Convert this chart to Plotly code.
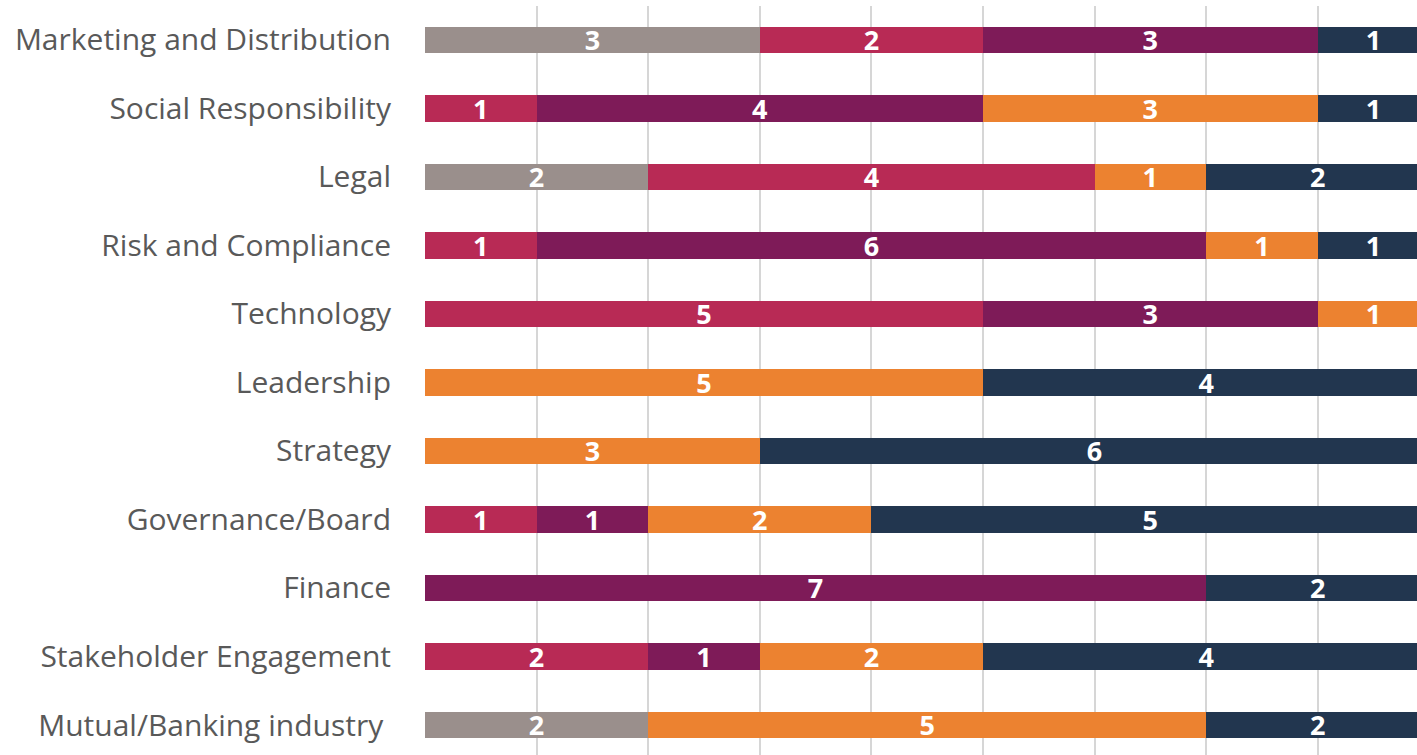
import plotly.graph_objects as go

categories = ["Mutual/Banking industry ", "Stakeholder Engagement", "Finance", "Governance/Board",
              "Strategy", "Leadership", "Technology", "Risk and Compliance", "Legal",
              "Social Responsibility", "Marketing and Distribution"]

series_names = ["Series 1", "Series 2", "Series 3", "Series 4", "Series 5"]
s1 = [2, 0, 0, 0, 0, 0, 0, 0, 2, 0, 3]
s2 = [0, 2, 0, 1, 0, 0, 5, 1, 4, 1, 2]
s3 = [0, 1, 7, 1, 0, 0, 3, 6, 0, 4, 3]
s4 = [5, 2, 0, 2, 3, 5, 1, 1, 1, 3, 0]
s5 = [2, 4, 2, 5, 6, 4, 0, 1, 2, 1, 1]
colors = ["#9a8f8c", "#b82a55", "#7e1b58", "#ec8230", "#22364f"]

fig = go.Figure()
for name, vals, col in zip(series_names, [s1, s2, s3, s4, s5], colors):
    fig.add_trace(go.Bar(
        y=categories, x=vals, name=name, orientation="h",
        marker=dict(color=col, line=dict(width=0)),
        text=[str(v) if v else "" for v in vals],
        textposition="inside", insidetextanchor="middle",
        textfont=dict(family="Open Sans", size=27, color="white", weight="bold"),
        textangle=0, constraintext="none",
    ))

fig.update_layout(
    barmode="stack", bargap=0.61,
    width=1417, height=755,
    margin=dict(l=425, r=0, t=6, b=0),
    paper_bgcolor="white", plot_bgcolor="white",
    showlegend=False,
    uniformtext=dict(mode=False),
    xaxis=dict(range=[0, 8.89], dtick=1, showgrid=True, gridcolor="#d6d6d6", gridwidth=1.5,
               showticklabels=False, zeroline=False, showline=False),
    yaxis=dict(range=[-0.438, 10.496], showgrid=False, ticks="", ticklabelstandoff=33,
               tickfont=dict(family="Open Sans", size=30, color="#595959"),
               showline=False, zeroline=False),
)

fig.write_html("out.html", config={"displayModeBar": False},
               post_script="document.body.style.margin='0';document.body.style.overflow='hidden';")
